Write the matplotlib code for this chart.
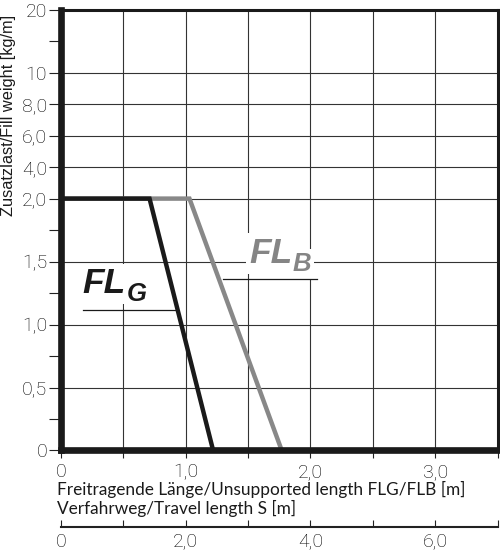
import numpy as np
import matplotlib
matplotlib.use("Agg")
import matplotlib.pyplot as plt
from matplotlib.lines import Line2D

# ---------------- data ----------------
flg_length = [0.0, 0.71, 1.22]      # FL_G curve, unsupported length [m]
flg_weight = [2.0, 2.0, 0.0]        # fill weight [kg/m]
flb_length = [0.0, 1.03, 1.77]      # FL_B curve
flb_weight = [2.0, 2.0, 0.0]

y_tick_values = [0, 0.5, 1.0, 1.5, 2.0, 4.0, 6.0, 8.0, 10, 20]
y_tick_labels = ["0", "0,5", "1,0", "1,5", "2,0", "4,0", "6,0", "8,0", "10", "20"]
y_minor_values = [0.25, 0.75, 1.25, 1.75, 15]
# relative positions used by the piecewise scale
y_scale_pos = [0, 2, 4, 6, 8, 9, 10, 11, 12, 14]

x_tick_values = [0, 1.0, 2.0, 3.0]
x_tick_labels = ["0", "1,0", "2,0", "3,0"]
x_minor_values = [0.5, 1.5, 2.5, 3.5]

s_tick_values = [0, 2.0, 4.0, 6.0]
s_tick_labels = ["0", "2,0", "4,0", "6,0"]
s_minor_values = [1.0, 3.0, 5.0, 7.0]

# ---------------- scale ----------------
_YV = np.array([-1000.0] + y_tick_values + [10000.0])
_YP = np.array([-4000.0] + y_scale_pos + [14 + 0.2 * 9980])


def fwd(y):
    return np.interp(y, _YV, _YP)


def inv(p):
    return np.interp(p, _YP, _YV)


TICK_FONT = dict(family=["Roboto", "DejaVu Sans"], weight="light", size=14)

fig = plt.figure(figsize=(5.0, 5.59), dpi=100)
ax = fig.add_axes([0.122, 0.1941, 0.873, 0.7886])

ax.set_yscale("function", functions=(fwd, inv))
ax.set_ylim(0, 20)
ax.set_xlim(0, 3.5)

# grid
grid_color = "#333333"
for v in y_tick_values[1:-1]:
    ax.axhline(v, color=grid_color, lw=0.8, zorder=1)
for v in [0.5, 1.0, 1.5, 2.0, 2.5, 3.0]:
    ax.axvline(v, color=grid_color, lw=0.8, zorder=1)

# curves
ax.plot(flb_length, flb_weight, color="#888888", lw=3.2, zorder=3,
        solid_joinstyle="miter", solid_capstyle="butt")
ax.plot(flg_length, flg_weight, color="#1a1a1a", lw=3.2, zorder=4,
        solid_joinstyle="miter", solid_capstyle="butt")

# ticks
ax.set_yticks(y_tick_values)
ax.set_yticklabels(y_tick_labels, fontdict=TICK_FONT)
ax.set_yticks(y_minor_values, minor=True)
ax.tick_params(axis="y", which="both", direction="out", length=9, width=0.8,
               pad=1, color="#222222")
ax.set_xticks(x_tick_values)
ax.set_xticklabels(x_tick_labels, fontdict=TICK_FONT)
ax.set_xticks(x_minor_values, minor=True)
ax.tick_params(axis="x", which="both", direction="out", length=6, width=0.8,
               pad=3, color="#222222")

# spines
for side in ["left", "bottom"]:
    ax.spines[side].set_linewidth(4.8)
for side in ["top", "right"]:
    ax.spines[side].set_linewidth(2.2)
for sp in ax.spines.values():
    sp.set_color("#1a1a1a")
    sp.set_capstyle("projecting")
    sp.set_zorder(5)

# secondary travel-length axis
sec = ax.secondary_xaxis(-0.1735, functions=(lambda x: 2 * x, lambda s: s / 2))
sec.set_xticks(s_tick_values)
sec.set_xticklabels(s_tick_labels, fontdict=TICK_FONT)
sec.set_xticks(s_minor_values, minor=True)
sec.tick_params(axis="x", which="both", direction="in", length=5, width=0.8,
                pad=4, color="#222222")
sec.spines["bottom"].set_linewidth(1.5)
sec.spines["bottom"].set_color("#222222")

# curve labels
lab_font = dict(family=["Liberation Sans", "DejaVu Sans"], weight="bold",
                style="italic")
box = dict(boxstyle="square,pad=0.1", fc="white", ec="none")
ax.text(0.050, 0.357, "FL", transform=ax.transAxes, fontsize=25.5,
        color="#1a1a1a", ha="left", va="baseline", zorder=2, bbox=box, **lab_font)
ax.text(0.150, 0.339, "G", transform=ax.transAxes, fontsize=18.5,
        color="#1a1a1a", ha="left", va="baseline", zorder=2, bbox=box, **lab_font)
ax.add_line(Line2D([0.0504, 0.261], [0.3187, 0.3187], transform=ax.transAxes,
                   color="#1a1a1a", lw=0.9, zorder=2))

ax.text(0.431, 0.4254, "FL", transform=ax.transAxes, fontsize=25.5,
        color="#858585", ha="left", va="baseline", zorder=2, bbox=box, **lab_font)
ax.text(0.530, 0.4072, "B", transform=ax.transAxes, fontsize=18.5,
        color="#858585", ha="left", va="baseline", zorder=2, bbox=box, **lab_font)
ax.add_line(Line2D([0.371, 0.5865], [0.389, 0.389], transform=ax.transAxes,
                   color="#1a1a1a", lw=0.9, zorder=2))

# axis titles
title_font = dict(family=["Lato", "DejaVu Sans"], size=12.4, color="#1a1a1a")
fig.text(0.114, 0.1145, "Freitragende Länge/Unsupported length FLG/FLB [m]",
         ha="left", va="baseline", **title_font)
fig.text(0.114, 0.0805, "Verfahrweg/Travel length S [m]",
         ha="left", va="baseline", **title_font)
fig.text(0.017, 0.7935, "Zusatzlast/Fill weight [kg/m]", rotation=90,
         ha="center", va="center", family=["Liberation Sans", "DejaVu Sans"],
         size=11.8, color="#1a1a1a")

fig.savefig("out.png", dpi=100, facecolor="white")
